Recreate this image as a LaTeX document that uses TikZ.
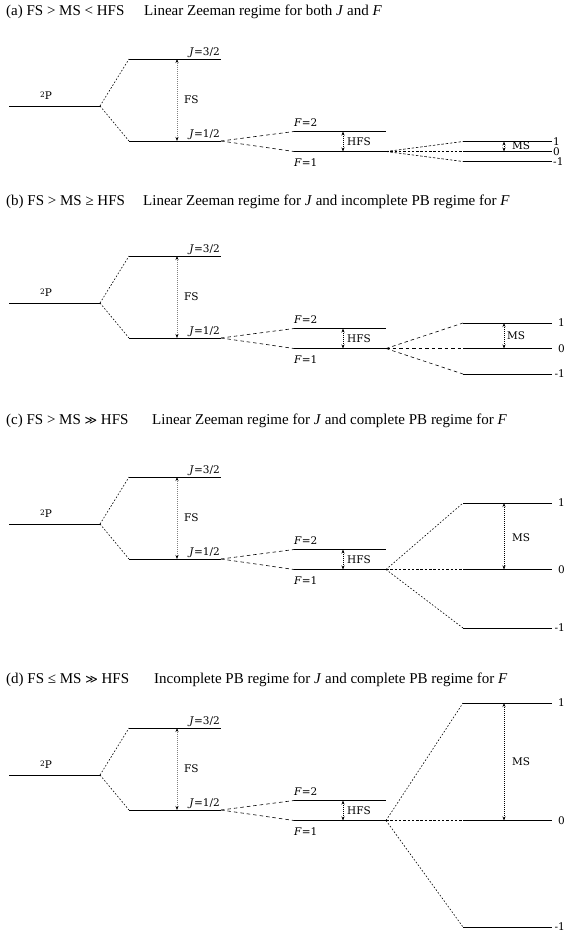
\documentclass[tikz,border=0pt]{standalone}
\usepackage{fontspec}
\setmainfont{Liberation Serif}
\newfontfamily\labfont{DejaVu Serif}
\newfontfamily\symfont{DejaVu Sans}
\usetikzlibrary{arrows.meta}
\tikzset{
  level/.style={line width=1pt},
  dotconn/.style={line width=0.6pt, dash pattern=on 1.6pt off 1.8pt},
  dashconn/.style={line width=0.6pt, dash pattern=on 3.5pt off 3pt},
  finedash/.style={line width=0.6pt, dash pattern=on 2.5pt off 1.8pt},
  lab/.style={font=\labfont\fontsize{10.5}{12}\selectfont, inner sep=0pt},
  ttl/.style={font=\fontsize{15}{18}\selectfont, anchor=base west, inner sep=0pt},
  gaparrow/.style={line width=0.6pt, dash pattern=on 1pt off 1pt,
    {Stealth[length=4pt,width=3pt,color=black]}-{Stealth[length=4pt,width=3pt,color=black]}},
}
\newcommand\muchgt{{\symfont\fontsize{12}{14}\selectfont ≫}}
\newcommand\commonpart[2]{%
\begin{scope}[yshift=-#2pt]
  \coordinate (#1PL) at (9,106);   \coordinate (#1PR) at (100,106);
  \coordinate (#1AL) at (129,59);  \coordinate (#1AR) at (221,59);
  \coordinate (#1BL) at (129,141); \coordinate (#1BR) at (221,141);
  \coordinate (#1CL) at (294,131.5); \coordinate (#1CR) at (386,131.5);
  \coordinate (#1DL) at (294,151.5); \coordinate (#1DR) at (386,151.5);
  \coordinate (#1FSt) at (177,59);  \coordinate (#1FSb) at (177,141);
  \coordinate (#1HFt) at (343,131.5); \coordinate (#1HFb) at (343,151.5);
  \draw[level] (#1PL) -- (#1PR);
  \draw[level] (#1AL) -- (#1AR);
  \draw[level] (#1BL) -- (#1BR);
  \draw[level] (#1CL) -- (#1CR);
  \draw[level] (#1DL) -- (#1DR);
  \draw[dotconn] (#1PR) -- (#1AL);
  \draw[dotconn] (#1PR) -- (#1BL);
  \draw[dashconn] (#1BR) -- (#1CL);
  \draw[dashconn] (#1BR) -- (#1DL);
  \draw[gaparrow, draw=gray] (#1FSt) -- (#1FSb);
  \draw[gaparrow] (#1HFt) -- (#1HFb);
  \node[lab, anchor=base] (#1Plab) at (46,99.5) {\raisebox{0.45ex}{\fontsize{7.5}{9}\selectfont 2}P};
  \node[lab, anchor=base east] (#1Jthree) at (220,55) {\textit{J}=3/2};
  \node[lab, anchor=base east] (#1Jone) at (220,137) {\textit{J}=1/2};
  \node[lab, anchor=base west] (#1Ftwo) at (294,126.5) {\textit{F}=2};
  \node[lab, anchor=base west] (#1Fone) at (294,166) {\textit{F}=1};
  \node[lab, anchor=west] (#1FSlab) at (184,100) {FS};
  \node[lab, anchor=west] (#1HFSlab) at (347,141.5) {HFS};
\end{scope}}
% Zeeman part: #1 prefix, #2 y(1), #3 y(0), #4 y(-1)
\newcommand\zeeman[4]{%
  \coordinate (#1ZaL) at (463,#2); \coordinate (#1ZaR) at (552,#2);
  \coordinate (#1ZbL) at (463,#3); \coordinate (#1ZbR) at (552,#3);
  \coordinate (#1ZcL) at (463,#4); \coordinate (#1ZcR) at (552,#4);
  \coordinate (#1MSt) at (504,#2); \coordinate (#1MSb) at (504,#3);
  \draw[level] (#1ZaL) -- (#1ZaR);
  \draw[level] (#1ZbL) -- (#1ZbR);
  \draw[level] (#1ZcL) -- (#1ZcR);
  \draw[gaparrow] (#1MSt) -- (#1MSb);
}
\begin{document}
\begin{tikzpicture}[x=1pt,y=-1pt]
\useasboundingbox (0,0) rectangle (567,932);
% ---------- (a)
\node[ttl] (ta1) at (6,15) {(a) FS > MS < HFS};
\node[ttl] (ta2) at (144,15) {Linear Zeeman regime for both \textit{J} and \textit{F}};
\commonpart{a}{0}
\zeeman{a}{141.5}{151.5}{161.5}
\draw[finedash] (aDR) -- (aZaL);
\draw[finedash] (aDR) -- (aZbL);
\draw[finedash] (aDR) -- (aZcL);
\node[lab, anchor=west] (aMS) at (512,146) {MS};
\node[lab, anchor=west] (aL1) at (553,141.5) {1};
\node[lab, anchor=west] (aL0) at (553,151.5) {0};
\node[lab, anchor=west] (aLm) at (553,161.5) {-1};
% ---------- (b)
\node[ttl] (tb1) at (6,205) {(b) FS > MS ≥ HFS};
\node[ttl] (tb2) at (143,205) {Linear Zeeman regime for \textit{J} and incomplete PB regime for \textit{F}};
\commonpart{b}{197}
\zeeman{b}{323}{348.5}{374}
\draw[dashconn] (bDR) -- (bZaL);
\draw[dashconn] (bDR) -- (bZbL);
\draw[dashconn] (bDR) -- (bZcL);
\node[lab, anchor=west] (bMS) at (507,336) {MS};
\node[lab, anchor=east] (bL1) at (565,323) {1};
\node[lab, anchor=east] (bL0) at (565,348.5) {0};
\node[lab, anchor=east] (bLm) at (565,374) {-1};
% ---------- (c)
\node[ttl] (tc1) at (6,424) {(c) FS > MS \muchgt{} HFS};
\node[ttl] (tc2) at (152,424) {Linear Zeeman regime for \textit{J} and complete PB regime for \textit{F}};
\commonpart{c}{418}
\zeeman{c}{503}{569.5}{628}
\draw[dotconn] (cDR) -- (cZaL);
\draw[finedash] (cDR) -- (cZbL);
\draw[dotconn] (cDR) -- (cZcL);
\node[lab, anchor=west] (cMS) at (512,538) {MS};
\node[lab, anchor=east] (cL1) at (565,503) {1};
\node[lab, anchor=east] (cL0) at (565,569.5) {0};
\node[lab, anchor=east] (cLm) at (565,628) {-1};
% ---------- (d)
\node[ttl] (td1) at (6,683) {(d) FS ≤ MS \muchgt{} HFS};
\node[ttl] (td2) at (154,683) {Incomplete PB regime for \textit{J} and complete PB regime for \textit{F}};
\commonpart{d}{669}
\zeeman{d}{703}{820.5}{927}
\draw[dotconn] (dDR) -- (dZaL);
\draw[finedash] (dDR) -- (dZbL);
\draw[dotconn] (dDR) -- (dZcL);
\node[lab, anchor=west] (dMS) at (512,762) {MS};
\node[lab, anchor=east] (dL1) at (565,703) {1};
\node[lab, anchor=east] (dL0) at (565,820.5) {0};
\node[lab, anchor=east] (dLm) at (565,927) {-1};
\end{tikzpicture}
\end{document}
